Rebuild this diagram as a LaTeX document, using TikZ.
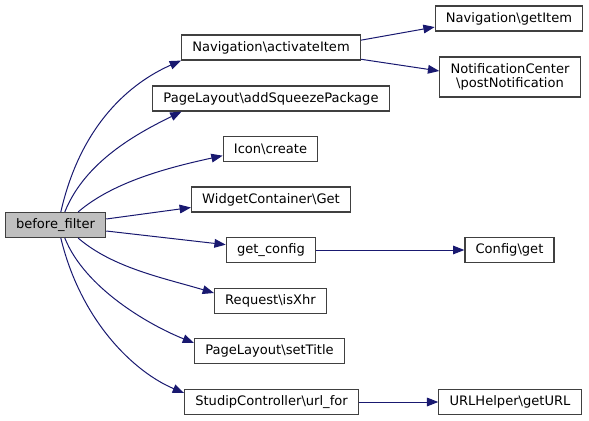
\documentclass[tikz,border=0pt]{standalone}
\usepackage{fontspec}
\setmainfont{DejaVu Sans}
\usetikzlibrary{arrows.meta}

\begin{document}
\begin{tikzpicture}[
  x=0.75pt,y=-0.75pt,
  fn/.style={draw=black!75,line width=0.9pt,fill=white,font=\fontsize{9.8pt}{10pt}\selectfont,
    inner xsep=8pt,inner ysep=2pt,minimum height=18.75pt},
  self/.style={fn,fill=black!25},
  call/.style={draw={rgb,255:red,25;green,25;blue,112},line width=0.75pt,
    -{Triangle[length=8.5pt,width=6.5pt]},fill=none},
]
\useasboundingbox (0,0) rectangle (589,421);

\node[self] (bf) at (55.5,225) {before\_filter};

\node[fn] (nav) at (271,47.5) {Navigation\textbackslash activateItem};
\node[fn] (sq) at (271,98.5) {PageLayout\textbackslash addSqueezePackage};
\node[fn] (icon) at (270.5,149) {Icon\textbackslash create};
\node[fn] (wc) at (271,199.5) {WidgetContainer\textbackslash Get};
\node[fn] (gc) at (271,250) {get\_config};
\node[fn] (rq) at (270.5,301) {Request\textbackslash isXhr};
\node[fn] (st) at (269.5,351) {PageLayout\textbackslash setTitle};
\node[fn] (url) at (271.5,402) {StudipController\textbackslash url\_for};

\node[fn] (gi) at (509,18.5) {Navigation\textbackslash getItem};
\node[fn,align=center,minimum height=30pt] (pn) at (510,77) {NotificationCenter\\\textbackslash postNotification};
\node[fn] (cg) at (509.5,250) {Config\textbackslash get};
\node[fn] (gu) at (510,402) {URLHelper\textbackslash getURL};

% calls from before_filter
\draw[call] ([xshift=4pt]bf.north) .. controls +(20,-88) and +(-50,22) .. (nav.south west);
\draw[call] ([xshift=7pt]bf.north) .. controls +(20,-50) and +(-45,22) .. ([xshift=22pt]sq.south west);
\draw[call] ([xshift=17pt]bf.north) .. controls +(35,-30) and +(-55,12) .. ([yshift=-5pt]icon.west);
\draw[call] ([yshift=4.5pt]bf.east) -- ([yshift=-6pt]wc.west);
\draw[call] ([yshift=-4.5pt]bf.east) -- ([yshift=4pt]gc.west);
\draw[call] ([xshift=17pt]bf.south) .. controls +(35,30) and +(-50,-15) .. ([yshift=6pt]rq.west);
\draw[call] ([xshift=7pt]bf.south) .. controls +(20,50) and +(-45,-18) .. ([yshift=6pt]st.west);
\draw[call] ([xshift=4pt]bf.south) .. controls +(20,83) and +(-50,-21) .. ([yshift=6.75pt]url.west);

% second level
\draw[call] ([yshift=5.5pt]nav.east) -- ([yshift=-6.4pt]gi.west);
\draw[call] ([yshift=1pt]nav.south east) -- ([yshift=4.5pt]pn.west);
\draw[call] (gc) -- (cg);
\draw[call] (url) -- (gu);

\end{tikzpicture}
\end{document}
